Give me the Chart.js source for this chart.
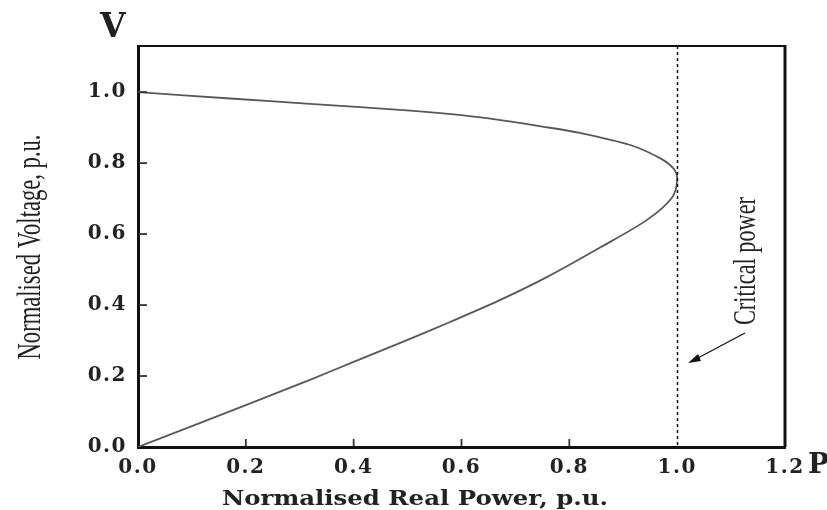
<!DOCTYPE html>
<html>
<head>
<meta charset="utf-8">
<script src="https://cdn.jsdelivr.net/npm/chart.js@4"></script>
<style>
  html, body { margin: 0; padding: 0; background: #fff; }
  #wrap { width: 827px; height: 510px; }
</style>
</head>
<body>
<div id="wrap"><canvas id="pvChart" width="827" height="510"></canvas></div>
<script>
// nose curve: lower branch up to the tip, then upper branch back
const POWER = [0, 0.2, 0.32, 0.4, 0.5, 0.58, 0.67, 0.76, 0.857, 0.944, 0.991, 1.0,
               0.993, 0.968, 0.913, 0.82, 0.75, 0.672, 0.6, 0.505, 0.319, 0.171, 0];
const VOLTAGE = [0, 0.118, 0.190, 0.240, 0.302, 0.353, 0.413, 0.480, 0.562, 0.640, 0.704, 0.755,
                 0.785, 0.814, 0.851, 0.885, 0.903, 0.921, 0.935, 0.948, 0.967, 0.982, 1.0];

const X_TICKS = [0, 0.2, 0.4, 0.6, 0.8, 1.0, 1.2];
const Y_TICKS = [0, 0.2, 0.4, 0.6, 0.8, 1.0];
const CRITICAL_P = 1.0;

const INK = "#222";
const TICK_FONT = { family: "DejaVu Serif", weight: "bold", size: 20 };

// draw text squeezed/stretched to a given length (the original uses a condensed face)
function fitText(ctx, text, font, len, x, y, rot) {
  ctx.save();
  ctx.font = font;
  const w = ctx.measureText(text).width;
  ctx.translate(x, y);
  ctx.rotate(rot);
  ctx.scale(len / w, 1);
  ctx.textAlign = "center";
  ctx.textBaseline = "alphabetic";
  ctx.fillText(text, 0, 0);
  ctx.restore();
}

function segment(ctx, x1, y1, x2, y2) {
  ctx.beginPath();
  ctx.moveTo(x1, y1);
  ctx.lineTo(x2, y2);
  ctx.stroke();
}

const decorations = {
  id: "decorations",
  beforeDraw(chart) {
    chart.ctx.letterSpacing = "1.5px";
  },
  afterDraw(chart) {
    const ctx = chart.ctx;
    const { left, right, top, bottom } = chart.chartArea;
    const xs = chart.scales.x, ys = chart.scales.y;
    ctx.letterSpacing = "0px";
    ctx.save();
    ctx.strokeStyle = "#111";

    // top and right frame
    ctx.lineWidth = 2;
    segment(ctx, left, top, right, top);
    ctx.lineWidth = 3;
    segment(ctx, right, top - 1, right, bottom);

    // inner tick marks
    ctx.strokeStyle = "#333";
    ctx.lineWidth = 1.8;
    for (const v of X_TICKS) {
      if (v <= 0 || v >= CRITICAL_P) continue;
      const px = xs.getPixelForValue(v);
      segment(ctx, px, bottom - 1, px, bottom - 8);
    }
    for (const v of Y_TICKS) {
      if (v <= 0) continue;
      const py = ys.getPixelForValue(v);
      segment(ctx, left + 1, py, left + 9, py);
    }
    ctx.strokeStyle = "#111";

    // critical power line
    const cx = Math.round(xs.getPixelForValue(CRITICAL_P)) + 0.5;
    ctx.lineWidth = 1.5;
    ctx.setLineDash([3, 3]);
    segment(ctx, cx, top, cx, bottom);
    ctx.setLineDash([]);

    // arrow
    ctx.lineWidth = 1.3;
    segment(ctx, 745, 333, 696, 359);
    ctx.fillStyle = "#111";
    ctx.beginPath();
    ctx.moveTo(688, 363);
    ctx.lineTo(698, 354);
    ctx.lineTo(701, 361);
    ctx.closePath();
    ctx.fill();

    ctx.fillStyle = INK;
    // axis letters
    ctx.font = "bold 33px 'DejaVu Serif'";
    ctx.textAlign = "left";
    ctx.textBaseline = "alphabetic";
    ctx.fillText("V", 100, 37);
    ctx.font = "bold 28px 'DejaVu Serif'";
    ctx.fillText("P", 808, 473);

    // axis titles
    fitText(ctx, "Normalised Real Power, p.u.", "bold 20px 'DejaVu Serif'", 386, 415, 505, 0);
    fitText(ctx, "Normalised Voltage, p.u.", "33px 'Liberation Serif'", 225, 40, 247, -Math.PI / 2);
    fitText(ctx, "Critical power", "32px 'Liberation Serif'", 128, 755, 261, -Math.PI / 2);
    ctx.restore();
  }
};

const ctx = document.getElementById("pvChart").getContext("2d");
new Chart(ctx, {
  type: "scatter",
  data: {
    datasets: [{
      data: POWER.map((p, i) => ({ x: p, y: VOLTAGE[i] })),
      showLine: true,
      borderColor: "#585858",
      borderWidth: 1.8,
      pointRadius: 0,
      tension: 0.3,
      fill: false
    }]
  },
  options: {
    responsive: false,
    animation: false,
    layout: { padding: { left: 0, top: 46, right: 42, bottom: 0 } },
    plugins: { legend: { display: false }, tooltip: { enabled: false } },
    scales: {
      x: {
        type: "linear",
        min: 0,
        max: 1.2,
        afterBuildTicks: s => { s.ticks = X_TICKS.map(v => ({ value: v })); },
        afterFit: s => { s.height = 63; },
        border: { color: "#111", width: 3 },
        grid: { display: false },
        ticks: {
          padding: 1,
          maxRotation: 0,
          color: INK,
          font: TICK_FONT,
          callback: v => v.toFixed(1)
        }
      },
      y: {
        type: "linear",
        min: 0,
        max: 1.13,
        afterBuildTicks: s => { s.ticks = Y_TICKS.map(v => ({ value: v })); },
        afterFit: s => { s.width = 138; },
        border: { color: "#111", width: 3 },
        grid: { display: false },
        ticks: {
          padding: 3,
          color: INK,
          font: TICK_FONT,
          callback: v => v.toFixed(1)
        }
      }
    }
  },
  plugins: [decorations]
});
</script>
</body>
</html>
